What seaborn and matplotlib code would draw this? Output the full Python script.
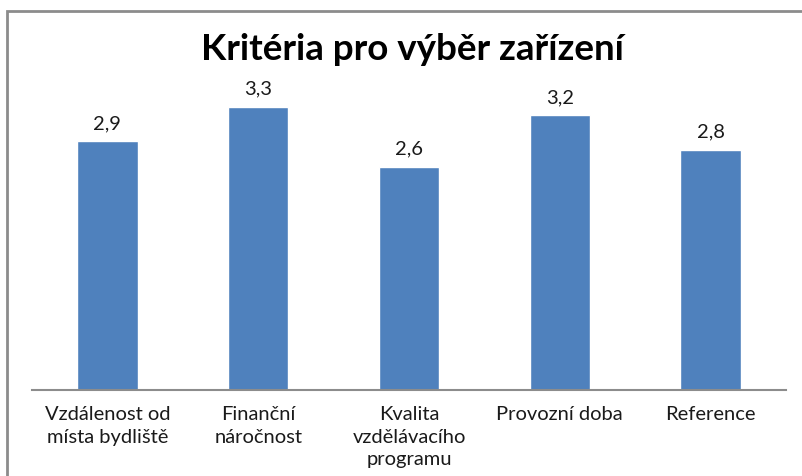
import matplotlib
matplotlib.use("Agg")
import matplotlib.pyplot as plt
import seaborn as sns
import pandas as pd
from matplotlib.patches import Rectangle

categories = ["Vzdálenost od\nmísta bydliště", "Finanční\nnáročnost", "Kvalita\nvzdělávacího\nprogramu", "Provozní doba", "Reference"]
values = [2.9, 3.3, 2.6, 3.2, 2.8]
title = "Kritéria pro výběr zařízení"

sns.set_theme(style="white")
plt.rcParams['font.family'] = ['Lato', 'DejaVu Sans']

W, H = 803, 477
fig = plt.figure(figsize=(W/100, H/100), dpi=100)
left, right, base = 32, 786, 391
ymax = 3.5
ppu = 85.8
top = base - ymax*ppu
ax = fig.add_axes([left/W, 1 - base/H, (right-left)/W, (base-top)/H])

df = pd.DataFrame({"cat": categories, "val": values})
sns.barplot(data=df, x="cat", y="val", color="#4F81BD", saturation=1, width=0.4, ax=ax)
ax.set_ylim(0, ymax)
ax.set_xlim(-0.5, len(categories)-0.5)
for s in ["top", "right", "left"]:
    ax.spines[s].set_visible(False)
ax.spines["bottom"].set_color("#8c8c8c")
ax.spines["bottom"].set_linewidth(1.5)
ax.set_yticks([])
ax.set_xlabel("")
ax.set_ylabel("")
ax.tick_params(axis="x", length=0, pad=11, labelsize=14.5, labelcolor="#1a1a1a")
for lab in ax.get_xticklabels():
    lab.set_linespacing(1.4)
for i, v in enumerate(values):
    ax.text(i, v + 0.12, f"{v:.1f}".replace(".", ","), ha="center", va="bottom", fontsize=14.5, color="#1a1a1a")

fig.text(412/W, 1 - 49/H, title, ha="center", va="center", fontsize=26.5, fontweight="bold", color="black")

fig.patches.append(Rectangle((7.5/W, -0.1), 1.2, 1 - 11.5/H + 0.1, transform=fig.transFigure,
                             fill=False, edgecolor="#8c8c8c", linewidth=2))

fig.savefig("out.png", dpi=100)
